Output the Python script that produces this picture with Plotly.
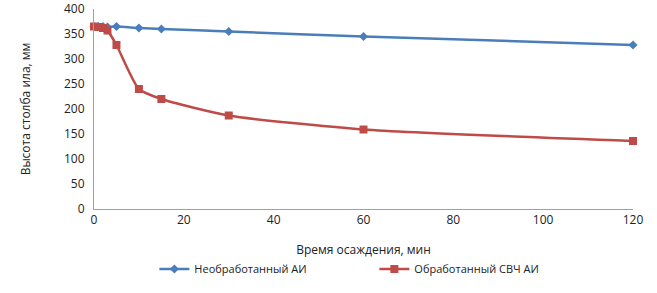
import plotly.graph_objects as go

time_min = [0, 1, 2, 3, 5, 10, 15, 30, 60, 120]
untreated = [365, 365, 365, 364, 365, 362, 360, 355, 345, 328]
treated = [365, 364, 362, 357, 328, 240, 220, 187, 159, 136]

series_names = ["Необработанный АИ", "Обработанный СВЧ АИ"]
x_title = "Время осаждения, мин"
y_title = "Высота столба ила, мм"

font_family = "Open Sans, Liberation Sans, sans-serif"

fig = go.Figure()
fig.add_trace(go.Scatter(
    x=time_min, y=untreated, name=series_names[0], mode="lines+markers",
    line=dict(color="#4A7EBB", width=2.5, shape="spline", smoothing=0.6),
    marker=dict(symbol="diamond", size=7, color="#4A7EBB"),
    cliponaxis=False,
))
fig.add_trace(go.Scatter(
    x=time_min, y=treated, name=series_names[1], mode="lines+markers",
    line=dict(color="#BE4B48", width=2.5, shape="spline", smoothing=0.6),
    marker=dict(symbol="square", size=8, color="#BE4B48"),
    cliponaxis=False,
))

fig.update_layout(
    width=657, height=293,
    margin=dict(l=94, r=24, t=9, b=84, autoexpand=False),
    plot_bgcolor="white", paper_bgcolor="white",
    font=dict(family=font_family, size=12, color="#222222"),
    xaxis=dict(
        range=[0, 120], tickvals=[0, 20, 40, 60, 80, 100, 120],
        showgrid=False, zeroline=False, showline=True, linecolor="#A0A0A0", linewidth=1,
        ticks="", automargin=False, ticklabeloverflow="allow",
        title=dict(text=x_title, font=dict(size=12), standoff=18),
    ),
    yaxis=dict(
        range=[0, 400], tickvals=list(range(0, 401, 50)),
        showgrid=False, zeroline=False, showline=True, linecolor="#A0A0A0", linewidth=1,
        ticks="", ticklabelstandoff=6, automargin=False, ticklabeloverflow="allow",
        title=dict(text=y_title, font=dict(size=12), standoff=30),
    ),
    legend=dict(orientation="h", x=0.112, xanchor="left", y=-0.30, yanchor="middle",
                font=dict(size=11), itemwidth=30, entrywidth=175, tracegroupgap=0),
    showlegend=True,
)

fig.write_html("out.html", config={"displayModeBar": False},
               post_script="document.body.style.margin='0';")
